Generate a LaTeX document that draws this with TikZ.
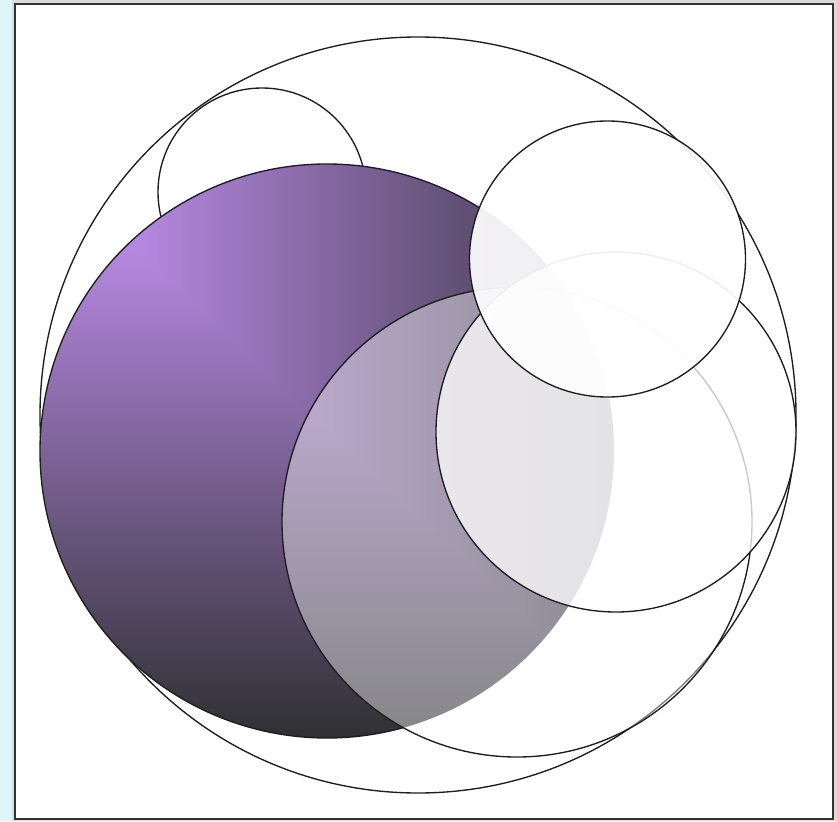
\documentclass[tikz,border=0pt]{standalone}
\pgfdeclarefunctionalshading{purpshade}{\pgfpoint{0bp}{0bp}}{\pgfpoint{100bp}{100bp}}{}{
  67.5 exch sub 0.02353 mul
  exch 33.5 sub 0.0222 mul
  2 copy lt {exch} if pop
  dup 0 lt {pop 0} if
  dup 1 gt {pop 1} if
  dup -0.526 mul 0.710 add
  exch dup -0.341 mul 0.529 add
  exch -0.678 mul 0.878 add
}
\definecolor{pagebg}{HTML}{DDF5F7}
\definecolor{ringcol}{HTML}{1E1E1E}
\tikzset{
  ring/.style={draw=ringcol, line width=1.35pt},
  veil/.style={ring, fill=white, fill opacity=#1}
}
\begin{document}
\begin{tikzpicture}[x=1pt,y=-1pt]
\useasboundingbox (0,0) rectangle (837,821);
\fill[pagebg] (0,0) rectangle (837,821);
\fill[black!14] (12,0) rectangle (837,821);
\filldraw[fill=white, draw=black!80, line width=2.3pt] (15,4) rectangle (833,819);
% big circle
\draw[ring] (418,415) circle[radius=378pt];
% small circle top left
\draw[ring] (262,192) circle[radius=104pt];
% purple shaded circle
\shade[shading=purpshade] (327,451) circle[radius=287pt];
\draw[ring] (327,451) ++(33.6:287pt) arc[start angle=33.6, end angle=285.5, radius=287pt];
% translucent circles
\filldraw[veil=0.42] (517,522) circle[radius=235pt];
\filldraw[veil=0.76] (616,432) circle[radius=180pt];
\filldraw[veil=0.92] (607.5,259) circle[radius=138pt];
\end{tikzpicture}
\end{document}
